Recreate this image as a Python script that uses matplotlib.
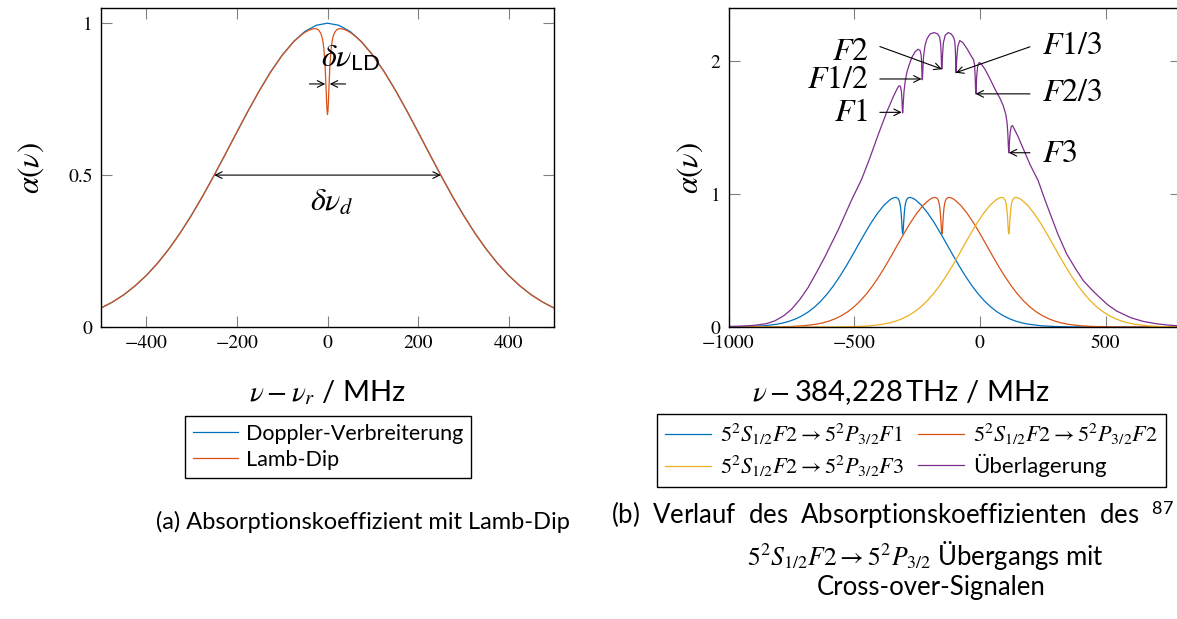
import matplotlib
matplotlib.use("Agg")
import matplotlib.pyplot as plt

plt.rcParams["font.family"] = ["Lato", "DejaVu Sans"]
plt.rcParams["mathtext.fontset"] = "custom"
plt.rcParams["mathtext.rm"] = "STIXGeneral"
plt.rcParams["mathtext.it"] = "STIXGeneral:italic"
plt.rcParams["mathtext.bf"] = "STIXGeneral:bold"
plt.rcParams["mathtext.sf"] = "Lato"
plt.rcParams["mathtext.fallback"] = "stix"

# ---------- Daten (a): Doppler-Profil und Lamb-Dip ----------
doppler_x = [-500, -475, -450, -425, -400, -375, -350, -325, -300, -275, -250,
             -225, -200, -175, -150, -125, -100, -75, -50, -25, 0,
             25, 50, 75, 100, 125, 150, 175, 200, 225, 250,
             275, 300, 325, 350, 375, 400, 425, 450, 475, 500]
doppler_y = [0.0625, 0.0819, 0.1057, 0.1351, 0.1696, 0.2102, 0.2570, 0.3099, 0.3686, 0.4323, 0.5,
             0.5703, 0.6417, 0.7120, 0.7791, 0.8409, 0.8950, 0.9395, 0.9727, 0.9931, 1.0,
             0.9931, 0.9727, 0.9395, 0.8950, 0.8409, 0.7791, 0.7120, 0.6417, 0.5703, 0.5,
             0.4323, 0.3686, 0.3099, 0.2570, 0.2102, 0.1696, 0.1351, 0.1057, 0.0819, 0.0625]

lamb_x = [-500, -475, -450, -425, -400, -375, -350, -325, -300, -275, -250,
          -225, -200, -175, -150, -125, -100, -75, -60, -50, -40, -30, -25, -20,
          -15, -12, -10, -8, -6, -5, -4, -3, -2, -1, 0,
          1, 2, 3, 4, 5, 6, 8, 10, 12, 15,
          20, 25, 30, 40, 50, 60, 75, 100, 125, 150, 175, 200, 225,
          250, 275, 300, 325, 350, 375, 400, 425, 450, 475, 500]
lamb_y = [0.0625, 0.0819, 0.1057, 0.1351, 0.1696, 0.2102, 0.2570, 0.3099, 0.3686, 0.4323, 0.5,
          0.5703, 0.6417, 0.7120, 0.7790, 0.8404, 0.8943, 0.9382, 0.9588, 0.9697, 0.9778, 0.9820, 0.9816, 0.9780,
          0.9675, 0.9540, 0.9389, 0.9150, 0.8766, 0.8497, 0.8168, 0.7793, 0.7414, 0.7115, 0.70,
          0.7115, 0.7414, 0.7793, 0.8168, 0.8497, 0.8766, 0.9150, 0.9389, 0.9540, 0.9675,
          0.9780, 0.9816, 0.9820, 0.9778, 0.9697, 0.9588, 0.9382, 0.8943, 0.8404, 0.7790, 0.7120, 0.6417, 0.5703,
          0.5, 0.4323, 0.3686, 0.3099, 0.2570, 0.2102, 0.1696, 0.1351, 0.1057, 0.0819, 0.0625]

# ---------- Daten (b): Linienprofil (relativ zur Linienmitte) ----------
line_offset = [-1150, -1000, -900, -800, -700, -650, -600, -550, -500, -475, -450, -425,
               -400, -375, -350, -325, -300, -275, -250, -225, -200, -175, -150, -125,
               -100, -75, -50, -40, -30, -25, -20, -16, -13, -10, -8, -6, -4, -3, -2, -1, 0,
               1, 2, 3, 4, 6, 8, 10, 13, 16, 20, 25, 30, 40, 50, 75, 100,
               125, 150, 175, 200, 225, 250, 275, 300, 325, 350, 375, 400,
               425, 450, 475, 500, 550, 600, 650, 700, 800, 900, 1000, 1150]
line_profile = [0.0, 0.0, 0.0, 0.0001, 0.0005, 0.0015, 0.0039, 0.0094, 0.0212, 0.0308, 0.0440, 0.0617,
                0.0848, 0.1143, 0.1512, 0.1961, 0.2496, 0.3115, 0.3814, 0.4581, 0.5396, 0.6236, 0.7068, 0.7859,
                0.856, 0.915, 0.9579, 0.969, 0.9747, 0.974, 0.969, 0.9591, 0.9447, 0.919, 0.891, 0.8495,
                0.792, 0.760, 0.730, 0.708, 0.70,
                0.708, 0.730, 0.760, 0.792, 0.8495, 0.891, 0.919, 0.9447, 0.9591, 0.969, 0.974, 0.9747,
                0.969, 0.9579, 0.915, 0.856,
                0.7859, 0.7068, 0.6236, 0.5396, 0.4581, 0.3814, 0.3115, 0.2496, 0.1961, 0.1512, 0.1143, 0.0848,
                0.0617, 0.0440, 0.0308, 0.0212, 0.0094, 0.0039, 0.0015, 0.0005, 0.0001, 0.0, 0.0, 0.0]
line_centers = [-307, -151, 115]   # F1, F2, F3
crossover_centers = [-229, -96, -17]   # F1/2, F1/3, F2/3

# Ueberlagerung
sum_x = [-1000, -950, -900, -850, -816, -780, -749, -715, -683, -650, -617, -590, -564, -537, -510,
         -471, -440, -400, -370, -345, -330, -322, -316, -312, -310, -308.5, -307.5, -306.5, -305,
         -302, -297, -290, -280, -270, -258, -246, -238, -234, -232, -230.5, -229.5, -228.5, -227,
         -224, -218, -210, -198, -182, -168, -160, -156, -154, -152.5, -151.5, -150.5, -148.5,
         -145, -138, -126, -114, -105, -100, -98, -96.5, -96, -95, -94, -92, -88, -80, -68, -50,
         -35, -25, -21, -18.5, -17, -16, -15, -13, -9, -3, 5, 20, 40, 60, 80, 93, 103, 108, 111,
         113.5, 115, 116, 118, 121, 125, 130, 150, 175, 200, 232, 260, 280, 310, 345, 380, 411,
         445, 478, 510, 544, 600, 650, 700, 750, 800]
sum_y = [0.004, 0.007, 0.012, 0.025, 0.046, 0.085, 0.134, 0.21, 0.298, 0.41, 0.526, 0.63, 0.729, 0.843, 0.957,
         1.109, 1.26, 1.47, 1.62, 1.73, 1.79, 1.815, 1.81, 1.77, 1.71, 1.64, 1.61, 1.62, 1.68,
         1.77, 1.85, 1.92, 1.98, 2.03, 2.07, 2.09, 2.08, 2.05, 2.0, 1.91, 1.86, 1.87, 1.93,
         2.04, 2.12, 2.17, 2.205, 2.215, 2.205, 2.18, 2.13, 2.05, 1.96, 1.94, 1.96, 2.05,
         2.14, 2.195, 2.215, 2.205, 2.18, 2.15, 2.10, 2.02, 1.95, 1.913, 1.93, 2.02, 2.11, 2.155, 2.14, 2.09,
         2.04, 2.01, 1.97, 1.87, 1.78, 1.754, 1.78, 1.88, 1.96, 1.99, 1.98, 1.94, 1.868, 1.79, 1.72, 1.665, 1.60,
         1.54, 1.46,
         1.35, 1.311, 1.33, 1.41, 1.47, 1.51, 1.515, 1.44, 1.33, 1.22, 1.10, 0.95, 0.85, 0.70, 0.55, 0.44, 0.35,
         0.28, 0.22, 0.165, 0.12, 0.07, 0.042, 0.025, 0.014, 0.008]

# ---------- Achsenbeschriftung ----------
a_xticks = [-400, -200, 0, 200, 400]
a_xticklabels = ["\u2212400", "\u2212200", "0", "200", "400"]
a_yticks = [0, 0.5, 1]
a_yticklabels = ["0", "0.5", "1"]
b_xticks = [-1000, -500, 0, 500]
b_xticklabels = ["\u22121000", "\u2212500", "0", "500"]
b_yticks = [0, 1, 2]
b_yticklabels = ["0", "1", "2"]

line_colors = ["#0072BD", "#D95319", "#EDB120", "#7E2F8E"]
b_labels = [r"$5^2S_{1/2}F2 \rightarrow 5^2P_{3/2}F1$",
            r"$5^2S_{1/2}F2 \rightarrow 5^2P_{3/2}F2$",
            r"$5^2S_{1/2}F2 \rightarrow 5^2P_{3/2}F3$",
            "Überlagerung"]

W, H = 1177, 619
fig = plt.figure(figsize=(W / 100, H / 100), dpi=100)


def _axes(x0, x1, y_top, y_bot):
    return fig.add_axes([x0 / W, 1 - y_bot / H, (x1 - x0) / W, (y_bot - y_top) / H])


def _style(ax):
    ax.tick_params(direction="in", length=8, width=0.8, color="gray",
                   top=True, right=True, labelsize=14, pad=6)
    for lab in ax.get_xticklabels() + ax.get_yticklabels():
        lab.set_fontfamily("STIXGeneral")
    for sp in ax.spines.values():
        sp.set_linewidth(1.0)


arrow = dict(arrowstyle="->", color="black", lw=0.8, shrinkA=0, shrinkB=0, mutation_scale=12)
leg_kw = dict(loc="upper left", frameon=True, fancybox=False, edgecolor="black",
              framealpha=1, handlelength=2.1, handletextpad=0.4, borderpad=0.35,
              labelspacing=0.3, borderaxespad=0)

# ---------- (a) ----------
ax1 = _axes(101, 554, 8, 327)
ax1.plot(doppler_x, doppler_y, color=line_colors[0], lw=0.9, label="Doppler-Verbreiterung")
ax1.plot(lamb_x, lamb_y, color=line_colors[1], lw=0.9, label="Lamb-Dip")
ax1.set_xlim(-500, 500)
ax1.set_ylim(0, 1.05)
ax1.set_xticks(a_xticks, a_xticklabels)
ax1.set_yticks(a_yticks, a_yticklabels)
_style(ax1)
ax1.set_xlabel(r"$\nu - \nu_r$ / MHz", fontsize=21, va="center")
ax1.xaxis.set_label_coords(0.5, -0.205)
ax1.set_ylabel(r"$\alpha(\nu)$", fontsize=22, va="center")
ax1.yaxis.set_label_coords(-0.155, 0.5)

ax1.annotate("", xy=(-250, 0.5), xytext=(250, 0.5),
             arrowprops=dict(arrowstyle="<->", color="black", lw=0.8, shrinkA=0, shrinkB=0, mutation_scale=12))
ax1.text(10, 0.41, r"$\delta\nu_d$", fontsize=23, ha="center", va="center")
ax1.annotate("", xy=(-5, 0.8), xytext=(-40, 0.8), arrowprops=arrow)
ax1.annotate("", xy=(5, 0.8), xytext=(40, 0.8), arrowprops=arrow)
ax1.text(52, 0.885, r"$\delta\nu_{\mathsf{LD}}$", fontsize=23, ha="center", va="center")

fig.legend(bbox_to_anchor=(185 / W, 1 - 416 / H), fontsize=15.5, **leg_kw)
fig.text(363 / W, 1 - 522 / H, "(a) Absorptionskoeffizient mit Lamb-Dip", fontsize=17,
         ha="center", va="center")

# ---------- (b) ----------
ax2 = _axes(728.5, 1181, 8, 327)
for c, col, lab in zip(line_centers, line_colors[:3], b_labels[:3]):
    ax2.plot([o + c for o in line_offset], line_profile, color=col, lw=0.9, label=lab)
ax2.plot(sum_x, sum_y, color=line_colors[3], lw=0.9, label=b_labels[3])
ax2.set_xlim(-1000, 800)
ax2.set_ylim(0, 2.4)
ax2.set_xticks(b_xticks, b_xticklabels)
ax2.set_yticks(b_yticks, b_yticklabels)
_style(ax2)
ax2.set_xlabel(r"$\nu-$384,228$\,$THz / MHz", fontsize=21, va="center")
ax2.xaxis.set_label_coords(0.381, -0.205)
ax2.set_ylabel(r"$\alpha(\nu)$", fontsize=22, va="center")
ax2.yaxis.set_label_coords(-0.085, 0.5)

# Pfeile zu den Dips
ax2.annotate("", xy=(line_centers[1], 1.94), xytext=(-398, 2.11), arrowprops=arrow)
ax2.annotate("", xy=(crossover_centers[0] - 3, 1.866), xytext=(-398, 1.866), arrowprops=arrow)
ax2.annotate("", xy=(line_centers[0] - 4, 1.615), xytext=(-398, 1.615), arrowprops=arrow)
ax2.annotate("", xy=(crossover_centers[1], 1.913), xytext=(199, 2.108), arrowprops=arrow)
ax2.annotate("", xy=(crossover_centers[2], 1.754), xytext=(199, 1.754), arrowprops=arrow)
ax2.annotate("", xy=(line_centers[2], 1.311), xytext=(199, 1.311), arrowprops=arrow)
for s, y in [("$F2$", 2.08), ("$F1/2$", 1.868), ("$F1$", 1.617)]:
    ax2.text(-444, y, s, fontsize=23, ha="right", va="center")
for s, y in [("$F1/3$", 2.12), ("$F2/3$", 1.767), ("$F3$", 1.311)]:
    ax2.text(246, y, s, fontsize=23, ha="left", va="center")

# zeilenweise Reihenfolge wie im Original
h, l = ax2.get_legend_handles_labels()
order = [0, 2, 1, 3]
fig.legend([h[i] for i in order], [l[i] for i in order], ncol=2, columnspacing=0.6,
           bbox_to_anchor=(657 / W, 1 - 414 / H), fontsize=16, **leg_kw)

# Blocksatz der ersten Zeile (im Original am Bildrand abgeschnitten)
fig.text(611 / W, 1 - 515 / H,
         r"(b)  Verlauf  des  Absorptionskoeffizienten  des  $^{\mathsf{87}}$",
         fontsize=18.5, ha="left", va="center")
fig.text(925 / W, 1 - 556 / H, r"$5^2S_{1/2}F2 \rightarrow 5^2P_{3/2}$ Übergangs mit",
         fontsize=18.5, ha="center", va="center")
fig.text(931 / W, 1 - 588 / H, "Cross-over-Signalen", fontsize=18.5, ha="center", va="center")

fig.savefig("out.png", dpi=100)
